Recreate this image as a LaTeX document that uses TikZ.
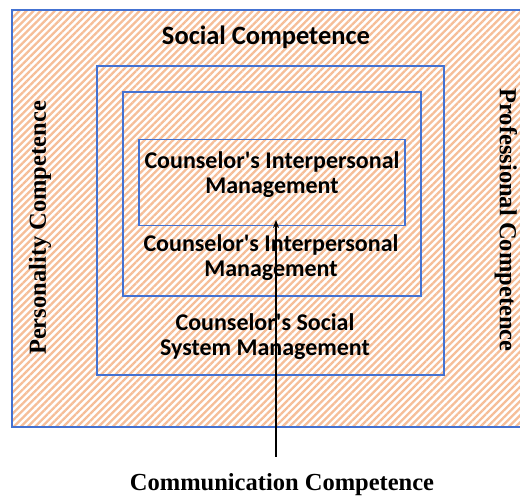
\documentclass[tikz,border=0pt]{standalone}
\usepackage{fontspec}
\setmainfont{Liberation Serif}
\setsansfont{Carlito}
\usetikzlibrary{patterns.meta,arrows.meta,positioning}
\definecolor{hatch}{RGB}{246,190,152}
\definecolor{frame}{RGB}{68,114,210}
\newcommand{\csl}{Counselor\textquotesingle s}
\tikzset{
    layer/.style={draw=frame, line width=1.4pt, inner sep=0pt, outer sep=0pt},
    lbl/.style={align=center, font=\sffamily\bfseries\fontsize{24}{25}\selectfont},
    side/.style={font=\rmfamily\bfseries\fontsize{24.5}{28}\selectfont}
}

\begin{document}
\begin{tikzpicture}[x=1pt,y=1pt]
    \clip (0,0) rectangle (520,497);
    \fill[white] (0,0) rectangle (520,497);
    % hatched field with the nested frames
    \path[pattern={Lines[angle=45,distance=5pt,line width=2.3pt]}, pattern color=hatch] (12,70) rectangle (530,487);
    \draw[frame, line width=1.4pt] (12,70) rectangle (530,487);

    \node[layer, minimum width=347pt, minimum height=309pt] (system) at (270.5,276.5) {};
    \node[layer, minimum width=298pt, minimum height=204pt] (outerip) at (272,303) {};
    \node[layer, minimum width=266pt, minimum height=86pt] (innerip) at (272,314.5) {};

    \node[lbl, font=\sffamily\bfseries\fontsize{26.5}{28}\selectfont] (social) at (266,460) {Social Competence};
    \node[lbl] (innertxt) at (272,322) {\csl{} Interpersonal\\Management};
    \node[lbl] (outertxt) at (271,239) {\csl{} Interpersonal\\Management};
    \node[lbl] (systemtxt) at (265,160) {\csl{} Social\\System Management};

    \node[side, rotate=90] (personality) at (40,269) {Personality Competence};
    \node[side, rotate=-90] (professional) at (506,277) {Professional Competence};
    \node[side] (comm) at (282,12) {Communication Competence};

    \coordinate (src) at (276,40);
    \coordinate (tip) at (276,277);
    \draw[-{Stealth[length=8pt,width=6pt]}, line width=1.5pt] (src) -- (tip);
\end{tikzpicture}
\end{document}
